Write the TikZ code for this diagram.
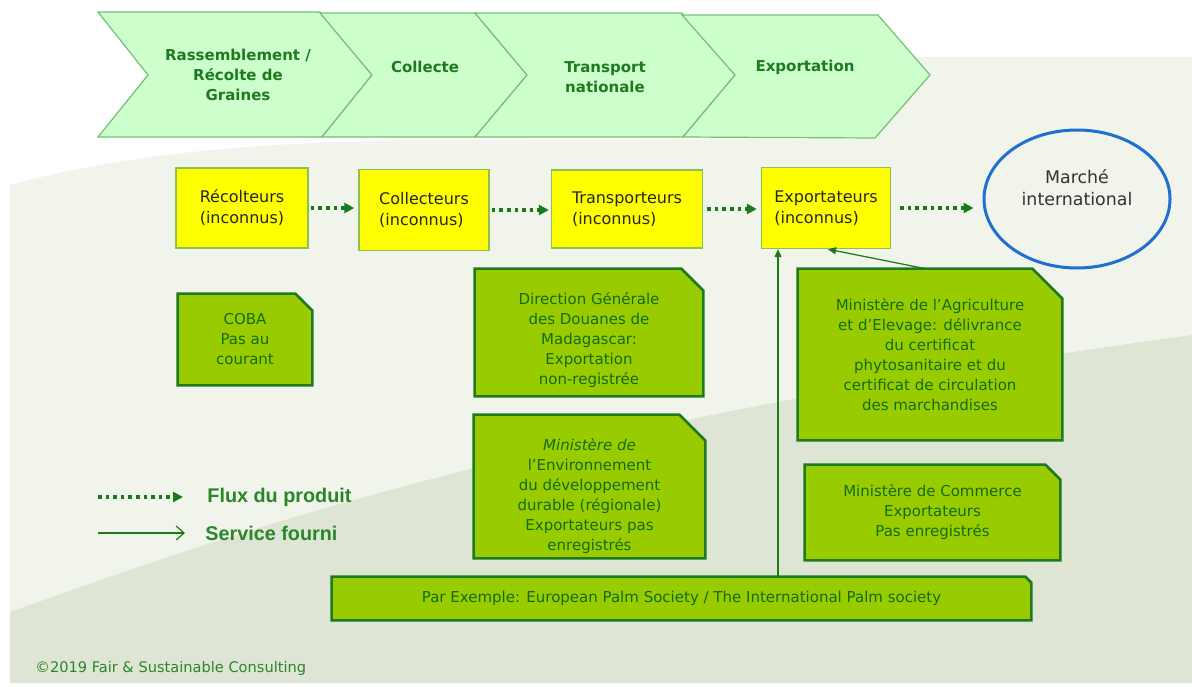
\documentclass[tikz,border=0pt]{standalone}
\usepackage{fontspec}
\setmainfont{DejaVu Sans}
\newfontfamily\legfont{Liberation Sans}
\usetikzlibrary{shapes.geometric,arrows.meta,calc}
\pgfdeclarelayer{pagebg}
\pgfdeclarelayer{shapes}
\pgfsetlayers{pagebg,shapes,main}
\definecolor{chevfill}{HTML}{CCFFCC}
\definecolor{chevline}{HTML}{74BF74}
\definecolor{chevtext}{HTML}{1F7A1F}
\definecolor{ybox}{HTML}{FFFF00}
\definecolor{yline}{HTML}{8CC152}
\definecolor{gfill}{HTML}{99CC00}
\definecolor{gline}{HTML}{1E7A1E}
\definecolor{gtext}{HTML}{136B13}
\definecolor{arrowgreen}{HTML}{1A7A1A}
\definecolor{circblue}{HTML}{1F6FD0}
\definecolor{bglight}{HTML}{F1F4EA}
\definecolor{bgdark}{HTML}{DEE5D4}
\definecolor{legtext}{HTML}{2A862A}
\newcommand{\gshapeof}[2]{%
  \begin{pgfonlayer}{shapes}
  \path[gshape] (#1.south west) -- (#1.north west) -- ([xshift=-#2]#1.north east)
     -- ([yshift=-#2]#1.north east) -- (#1.south east) -- cycle;
  \end{pgfonlayer}}
\begin{document}
\begin{tikzpicture}[x=0.5pt,y=-0.5pt,
 chev/.style={fill=chevfill,draw=chevline,line width=0.6pt,line join=miter},
 chevtxt/.style={text=chevtext,font=\fontsize{7.5}{10}\selectfont\bfseries,align=center,inner sep=0pt},
 ybx/.style={fill=ybox,draw=yline,line width=0.7pt,font=\fontsize{8}{10.5}\selectfont,text=black!85,align=left,inner sep=0pt},
 gbx/.style={inner sep=0pt,font=\fontsize{7.5}{10}\selectfont,text=gtext,align=center},
 gshape/.style={fill=gfill,draw=gline,line width=1.3pt,line join=miter},
 flow/.style={draw=arrowgreen,line width=1.6pt,dash pattern=on 1.8pt off 2pt,-{Triangle[length=5pt,width=5pt]}},
 service/.style={draw=arrowgreen,line width=0.6pt,-{Triangle[length=4pt,width=3.5pt]}},
 legtxt/.style={anchor=west,text=legtext,font=\legfont\bfseries\fontsize{9.9}{11}\selectfont,inner sep=0pt},
]
\useasboundingbox (0,0) rectangle (1192,686);
\begin{pgfonlayer}{pagebg}
\fill[white] (0,0) rectangle (1192,686);
\fill[bglight] (10,683) -- (10,185) .. controls (120,155) and (250,142) .. (420,140) -- (860,139) -- (860,57) -- (1192,57) -- (1192,683) -- cycle;
\fill[bgdark] (10,683) -- (10,612) .. controls (200,545) and (500,430) .. (1192,335) -- (1192,683) -- cycle;
\end{pgfonlayer}

% chevrons
\path[chev] (98,12) -- (320,12) -- (372,75) -- (322,137) -- (98,137) -- (148,75) -- cycle;
\path[chev] (320,13) -- (475,13) -- (527,75) -- (475,137) -- (322,137) -- (372,75) -- cycle;
\path[chev] (475,13) -- (682,13) -- (735,75) -- (683,137) -- (475,137) -- (527,75) -- cycle;
\path[chev] (682,15) -- (878,15) -- (930,75) -- (875,138) -- (683,137) -- (735,75) -- cycle;
\node[chevtxt] (c1) at (238,75) {Rassemblement /\\Récolte de\\Graines};
\node[chevtxt] (c2) at (425,67) {Collecte};
\node[chevtxt] (c3) at (605,77) {Transport\\nationale};
\node[chevtxt] (c4) at (805,67) {Exportation};

% yellow boxes
\node[ybx,minimum width=66pt,minimum height=40pt] (rec) at (242,208) {Récolteurs\\(inconnus)};
\node[ybx,minimum width=65pt,minimum height=40.5pt] (col) at (424,210) {Collecteurs\\(inconnus)};
\node[ybx,minimum width=75.5pt,minimum height=39pt] (tra) at (627,209) {Transporteurs\\(inconnus)};
\node[ybx,minimum width=64.5pt,minimum height=40.5pt] (exp) at (826,208) {Exportateurs\\(inconnus)};
\node[ellipse,draw=circblue,line width=1.5pt,fill=bglight,minimum width=93pt,minimum height=69pt,
      font=\fontsize{8.7}{11}\selectfont,text=black!80,align=center] (mar) at (1077,199) {Marché\\international\\[0pt]};

% flow arrows
\draw[flow,shorten <=1pt,shorten >=2pt] (rec.east) -- (rec.east -| col.west);
\draw[flow,shorten <=1pt,shorten >=1pt] (col.east) -- (col.east -| tra.west);
\draw[flow,shorten <=2pt,shorten >=2pt] (tra.east) -- (tra.east -| exp.west);
\draw[flow,shorten <=4.5pt,shorten >=4.5pt] (exp.east) -- (exp.east -| mar.west);

% green boxes
\node[gbx,minimum width=67pt,minimum height=45.5pt] (coba) at (245,339.5) {COBA\\Pas au\\courant};
\gshapeof{coba}{8.5pt}
\node[gbx,minimum width=114pt,minimum height=63.5pt] (dgd) at (589,332.5) {\rule{0pt}{14pt}Direction Générale\\des Douanes de\\Madagascar:\\Exportation\\non-registrée};
\gshapeof{dgd}{11pt}
\node[gbx,minimum width=132pt,minimum height=85.5pt] (agri) at (930,354.5) {Ministère de l’Agriculture\\et d’Elevage: délivrance\\du certificat\\phytosanitaire et du\\certificat de circulation\\des marchandises};
\gshapeof{agri}{15pt}
\node[gbx,minimum width=115.5pt,minimum height=71.5pt] (env) at (589.5,486.5) {\rule{0pt}{16pt}\textit{Ministère de}\\l’Environnement\\du développement\\durable (régionale)\\Exportateurs pas\\enregistrés};
\gshapeof{env}{13pt}
\node[gbx,minimum width=127.5pt,minimum height=47.5pt] (com) at (932.5,512.5) {Ministère de Commerce\\Exportateurs\\Pas enregistrés};
\gshapeof{com}{7.5pt}
\node[gbx,minimum width=349.5pt,minimum height=21.5pt] (par) at (681.5,598.5) {Par Exemple: European Palm Society / The International Palm society};
\gshapeof{par}{3pt}

% service arrows
\coordinate (vx) at (778,0);
\draw[service] (par.north -| vx) -- (exp.south -| vx);
\draw[service] ([xshift=-2.5pt]agri.north) -- ([xshift=1pt]exp.south);

% legend
\coordinate (l1a) at (98,497);
\coordinate (l1b) at (183,497);
\coordinate (l2a) at (98,533);
\coordinate (l2b) at (185,533);
\draw[flow] (l1a) -- (l1b);
\draw[draw=arrowgreen,line width=0.6pt,-{Straight Barb[length=4pt,width=7pt]}] (l2a) -- (l2b);
\node[legtxt] (lt1) at (207,497) {Flux du produit};
\node[legtxt] (lt2) at (205,533) {Service fourni};

\node[anchor=west,inner sep=0pt,text=legtext,font=\fontsize{7.3}{8}\selectfont] (copy) at (35,668) {©2019 Fair \& Sustainable Consulting};
\end{tikzpicture}
\end{document}
